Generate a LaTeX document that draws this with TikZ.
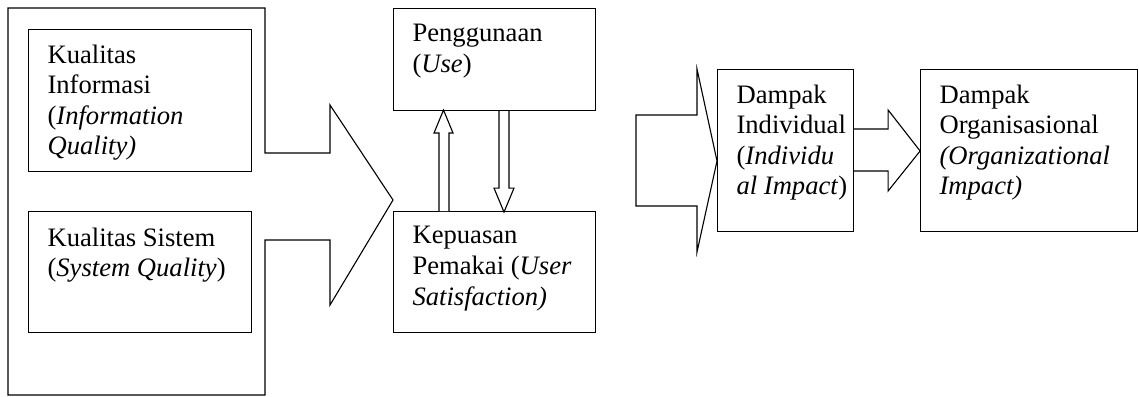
\documentclass[tikz,border=0pt]{standalone}
\usepackage{fontspec}
\setmainfont{Liberation Serif}
\usetikzlibrary{positioning, calc}
\newcommand{\pxu}{0.451pt}

\begin{document}
\begin{tikzpicture}[
  x=\pxu, y=-\pxu,
  line width=0.5pt,
  box/.style={draw=black, fill=white, rectangle, inner sep=0pt, anchor=north west},
  txt/.style={align=left, inner sep=0pt, anchor=north west,
    font=\fontsize{12}{13.8}\selectfont},
  blk/.style={draw=black, fill=white, line join=miter}
]
\useasboundingbox (0,0) rectangle (1139,396);

% the frame round both quality boxes, ending in one big arrow
\draw[blk] (8,8) -- (265,8) -- (265,153) -- (330,153) -- (330,105) -- (393,200)
  -- (330,305) -- (330,240) -- (265,240) -- (265,395) -- (8,395) -- cycle;

% The boxes.
\node[box, minimum width=223*\pxu, minimum height=142*\pxu] (iq)  at (28,29)  {};
\node[box, minimum width=223*\pxu, minimum height=121*\pxu] (sq)  at (28,211) {};
\node[box, minimum width=202*\pxu, minimum height=102*\pxu] (use) at (393,8)  {};
\node[box, minimum width=202*\pxu, minimum height=121*\pxu] (us)  at (393,211) {};
\node[box, minimum width=136*\pxu, minimum height=162*\pxu] (ind) at (717,69) {};
\node[box, minimum width=217*\pxu, minimum height=162*\pxu] (org) at (920,69) {};

% hollow arrows between use and satisfaction
\draw[blk] (us.north west) ++(46,0) -- ++(0,-78) -- ++(-5,0) -- ++(9.5,-23)
  -- ++(9.5,23) -- ++(-4,0) -- ++(0,78);
\draw[blk] (use.south west) ++(106,0) -- ++(0,77) -- ++(-5,0) -- ++(10,24)
  -- ++(10,-24) -- ++(-5,0) -- ++(0,-77);

% block arrow into individual impact
\draw[blk] (ind.north west) ++(0,92) -- ++(-20,-92) -- ++(0,46) -- ++(-61,0)
  -- ++(0,91) -- ++(61,0) -- ++(0,46) -- cycle;

% block arrow from individual to organizational impact
\draw[blk] (ind.north east) ++(0,60) -- ++(34,0) -- ++(0,-19) -- ++(32,41)
  -- ++(-32,40) -- ++(0,-20) -- ++(-34,0);

% texts, top line hung from the box corner
\node[txt] (iqt) at ($(iq.north west)+(19,15)$)
  {Kualitas\\Informasi\\(\textit{Information}\\\textit{Quality)}};
\node[txt] (sqt) at ($(sq.north west)+(19,16)$)
  {Kualitas Sistem\\(\textit{System Quality})};
\node[txt] (uset) at ($(use.north west)+(19,16)$)
  {Penggunaan\\(\textit{Use})};
\node[txt] (ust) at ($(us.north west)+(19,15)$)
  {Kepuasan\\Pemakai (\textit{User}\\\textit{Satisfaction)}};
\node[txt] (indt) at ($(ind.north west)+(19,15)$)
  {Dampak\\Individual\\(\textit{Individu}\\\textit{al Impact})};
\node[txt] (orgt) at ($(org.north west)+(19,15)$)
  {Dampak\\Organisasional\\\textit{(Organizational}\\\textit{Impact)}};

\end{tikzpicture}
\end{document}
